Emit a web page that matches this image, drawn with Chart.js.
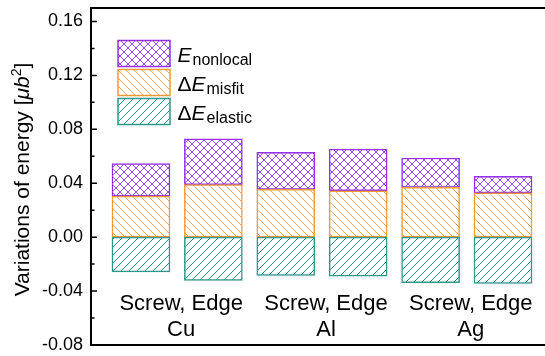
<!DOCTYPE html>
<html>
<head>
<meta charset="utf-8">
<script src="https://cdn.jsdelivr.net/npm/chart.js@4"></script>
<style>
    body { margin: 0; background: #fff; }
    #canvas { display: block; }
</style>
</head>
<body>
<canvas id="canvas" width="545" height="356"></canvas>
<script>
// データ（Screw, Edge の順で Cu, Al, Ag）
const barNames = ['Cu Screw', 'Cu Edge', 'Al Screw', 'Al Edge', 'Ag Screw', 'Ag Edge'];
const groupNames = ['Cu', 'Al', 'Ag'];
const pairLabel = 'Screw, Edge';
const elastic = [-0.0258, -0.0320, -0.0283, -0.0290, -0.0337, -0.0344];
const misfit = [0.0304, 0.0390, 0.0354, 0.0344, 0.0369, 0.0329];
const nonlocal = [0.0241, 0.0340, 0.0275, 0.0309, 0.0218, 0.0123];
const yTicks = [-0.08, -0.04, 0.00, 0.04, 0.08, 0.12, 0.16];

const FONT = "'Liberation Sans', Arial, sans-serif";

const purple = '#9331ea';
const orange = '#f39a35';
const teal = '#2f968a';

// ハッチングのパターンを作る
function makePattern(color, type) {
    let c = document.createElement('canvas');
    c.width = 8;
    c.height = 8;
    let g = c.getContext('2d');
    g.fillStyle = '#fff';
    g.fillRect(0, 0, 8, 8);
    g.strokeStyle = color;
    g.lineWidth = 1;
    g.beginPath();
    if (type === 'back' || type === 'cross') {
        g.moveTo(-1, -1);
        g.lineTo(9, 9);
    }
    if (type === 'fwd' || type === 'cross') {
        g.moveTo(-1, 9);
        g.lineTo(9, -1);
    }
    g.stroke();
    return g.createPattern(c, 'repeat');
}

const patNonlocal = makePattern('#9a48ee', 'cross');
const patMisfit = makePattern('#f2a24a', 'back');
const patElastic = makePattern('#16998a', 'fwd');

function toPoints(arr) {
    return arr.map((v, i) => ({x: i + 1, y: v}));
}

// 凡例の項目
const legendItems = [
    {delta: false, sub: 'nonlocal', pattern: patNonlocal, color: purple},
    {delta: true, sub: 'misfit', pattern: patMisfit, color: orange},
    {delta: true, sub: 'elastic', pattern: patElastic, color: teal}
];

// 枠・目盛り・ラベル・凡例を描くプラグイン
const decor = {
    id: 'decor',
    afterDraw(chart) {
        const ctx = chart.ctx;
        const a = chart.chartArea;
        const xs = chart.scales.x;
        const ys = chart.scales.y;
        ctx.save();

        // 枠（右側は切れている）
        ctx.strokeStyle = '#000';
        ctx.lineWidth = 2;
        ctx.beginPath();
        ctx.moveTo(a.right + 2, a.top);
        ctx.lineTo(a.left, a.top);
        ctx.lineTo(a.left, a.bottom);
        ctx.lineTo(a.right + 2, a.bottom);
        ctx.stroke();

        // 内向きの目盛り
        ctx.lineWidth = 1.5;
        ctx.beginPath();
        for (let i = 0; i < yTicks.length; i++) {
            let py = ys.getPixelForValue(yTicks[i]);
            ctx.moveTo(a.left, py);
            ctx.lineTo(a.left + 6, py);
            if (i < yTicks.length - 1) {
                let pm = ys.getPixelForValue((yTicks[i] + yTicks[i + 1]) / 2);
                ctx.moveTo(a.left, pm);
                ctx.lineTo(a.left + 3.5, pm);
            }
        }
        ctx.stroke();

        // 棒の下のラベル
        ctx.fillStyle = '#000';
        ctx.textAlign = 'center';
        ctx.textBaseline = 'middle';
        ctx.font = '22px ' + FONT;
        for (let g = 0; g < groupNames.length; g++) {
            let px = xs.getPixelForValue(g * 2 + 1.5) + 4;
            ctx.fillText(pairLabel, px, ys.getPixelForValue(-0.0495));
            ctx.fillText(groupNames[g], px, ys.getPixelForValue(-0.0685));
        }

        // 凡例
        ctx.textAlign = 'left';
        ctx.textBaseline = 'alphabetic';
        for (let i = 0; i < legendItems.length; i++) {
            let it = legendItems[i];
            let top = 40.5 + i * 29;
            ctx.fillStyle = it.pattern;
            ctx.fillRect(118, top, 52, 26);
            ctx.strokeStyle = it.color;
            ctx.lineWidth = 1.5;
            ctx.strokeRect(118, top, 52, 26);

            let tx = 177.5;
            let base = top + 21;
            ctx.fillStyle = '#000';
            if (it.delta) {
                ctx.font = '21px ' + FONT;
                ctx.fillText('\u0394', tx, base);
                tx += ctx.measureText('\u0394').width;
            }
            ctx.font = 'italic 21px ' + FONT;
            ctx.fillText('E', tx, base);
            tx += ctx.measureText('E').width + 1;
            ctx.font = '16px ' + FONT;
            ctx.fillText(it.sub, tx, base + 3);
        }

        // Y軸タイトル
        ctx.translate(29, (a.top + a.bottom) / 2 + 3);
        ctx.rotate(-Math.PI / 2);
        let parts = [
            {t: 'Variations of energy [', f: '21px ', dy: 0},
            {t: '\u03bcb', f: 'italic 21px ', dy: 0},
            {t: '2', f: '14px ', dy: -8},
            {t: ']', f: '21px ', dy: 0}
        ];
        let total = 0;
        for (let p of parts) {
            ctx.font = p.f + FONT;
            total += ctx.measureText(p.t).width;
        }
        let cx = -total / 2;
        for (let p of parts) {
            ctx.font = p.f + FONT;
            ctx.fillText(p.t, cx, p.dy);
            cx += ctx.measureText(p.t).width;
        }
        ctx.restore();
    }
};

let canvas = document.getElementById('canvas');
let chartInstance = new Chart(canvas.getContext('2d'), {
    type: 'bar',
    data: {
        labels: barNames,
        datasets: [
            {
                label: 'ΔE elastic',
                data: toPoints(elastic),
                backgroundColor: patElastic,
                borderColor: teal,
                borderWidth: 1.5,
                borderSkipped: false,
                barThickness: 58
            },
            {
                label: 'ΔE misfit',
                data: toPoints(misfit),
                backgroundColor: patMisfit,
                borderColor: orange,
                borderWidth: 1.5,
                borderSkipped: false,
                barThickness: 58
            },
            {
                label: 'E nonlocal',
                data: toPoints(nonlocal),
                backgroundColor: patNonlocal,
                borderColor: purple,
                borderWidth: 1.5,
                borderSkipped: false,
                barThickness: 58
            }
        ]
    },
    options: {
        responsive: false,
        animation: false,
        devicePixelRatio: 1,
        layout: {padding: {top: 8, bottom: 11, left: 0, right: 0}},
        plugins: {
            legend: {display: false},
            tooltip: {enabled: false}
        },
        scales: {
            x: {
                type: 'linear',
                display: false,
                offset: false,
                stacked: true,
                min: 0.31,
                max: 6.58
            },
            y: {
                stacked: true,
                min: -0.08,
                max: 0.17,
                afterBuildTicks: (s) => {
                    s.ticks = yTicks.map(v => ({value: v}));
                },
                afterFit: (s) => {
                    s.width = 91;
                    s.paddingTop = 0;
                    s.paddingBottom = 0;
                },
                grid: {display: false, drawTicks: false},
                border: {display: false},
                ticks: {
                    padding: 8,
                    color: '#000',
                    font: {family: FONT, size: 18},
                    callback: (v) => v.toFixed(2)
                }
            }
        }
    },
    plugins: [decor]
});
</script>
</body>
</html>
